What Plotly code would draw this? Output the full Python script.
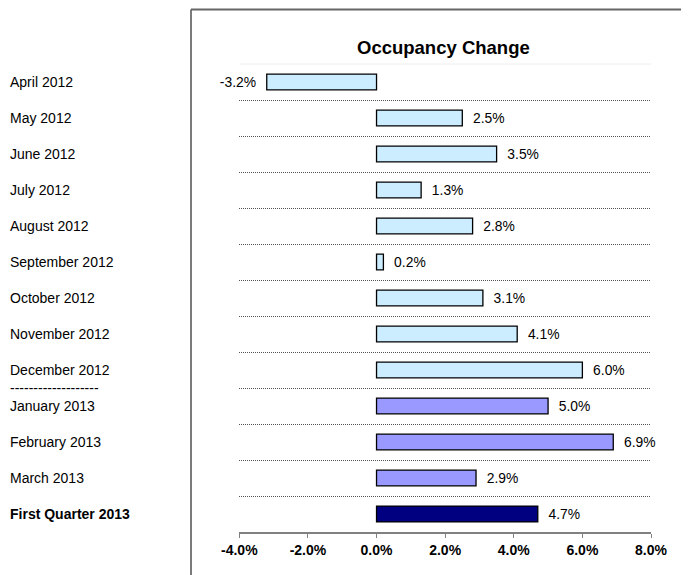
import plotly.graph_objects as go

W, H = 689, 575
OFF = 8  # default page body margin
FW, FH = W - OFF, H - OFF

categories = ["April 2012", "May 2012", "June 2012", "July 2012", "August 2012",
              "September 2012", "October 2012", "November 2012", "December 2012",
              "January 2013", "February 2013", "March 2013", "First Quarter 2013"]
values = [-3.2, 2.5, 3.5, 1.3, 2.8, 0.2, 3.1, 4.1, 6.0, 5.0, 6.9, 2.9, 4.7]
bar_colors = ["#CCECFF"] * 9 + ["#9999FF"] * 3 + ["#000080"]
tick_vals = [-4, -2, 0, 2, 4, 6, 8]
tick_text = ["-4.0%", "-2.0%", "0.0%", "2.0%", "4.0%", "6.0%", "8.0%"]
title = "Occupancy Change"

FONT = "Liberation Sans, Arial, sans-serif"
NB = "\u00a0\u00a0"

idx = list(range(len(categories)))
labels = [(NB + f"{v:.1f}%") if v >= 0 else (f"{v:.1f}%" + NB) for v in values]

fig = go.Figure(go.Bar(
    x=values, y=idx, orientation="h",
    marker=dict(color=bar_colors, line=dict(color="#000000", width=1.3)),
    width=0.44,
    text=labels, textposition="outside", cliponaxis=False,
    textfont=dict(family=FONT, size=14, color="#000000"),
    hoverinfo="skip",
))

px = lambda p: (p - OFF) / FW
py = lambda p: (H - p) / FH

fig.update_layout(
    template="none",
    width=FW, height=FH,
    margin=dict(l=0, r=0, t=0, b=0, pad=0),
    paper_bgcolor="white", plot_bgcolor="white",
    showlegend=False,
    xaxis=dict(
        domain=[px(239.3), px(651)],
        range=[-4, 8], automargin=False,
        tickvals=tick_vals, ticktext=tick_text,
        ticks="outside", ticklen=4, tickcolor="#808080", tickwidth=1.3,
        showline=True, linecolor="#808080", linewidth=1.5,
        showgrid=False, zeroline=False,
        tickfont=dict(family=FONT, size=14, color="#000000", weight="bold"),
        fixedrange=True,
    ),
    yaxis=dict(
        domain=[py(532), py(64)],
        range=[len(categories) - 0.5, -0.5], automargin=False,
        tickvals=[i + 0.5 for i in range(len(categories) - 1)],
        showticklabels=False, ticks="",
        showgrid=True, gridcolor="#555555", gridwidth=1, griddash="1px,1px",
        zeroline=False, showline=False,
        fixedrange=True,
    ),
)

annotations = [dict(
    text=f"<b>{title}</b>", xref="paper", yref="paper",
    x=px(443), y=py(47), xanchor="center", yanchor="middle",
    showarrow=False, font=dict(family=FONT, size=18.5, color="#000000"),
)]
for i, c in enumerate(categories):
    txt = f"<b>{c}</b>" if i == len(categories) - 1 else c
    annotations.append(dict(
        text=txt, xref="paper", yref="y", x=px(8), y=i,
        xanchor="left", yanchor="middle", showarrow=False,
        font=dict(family=FONT, size=14, color="#000000"),
    ))
annotations.append(dict(
    text="-------------------", xref="paper", yref="y", x=px(8), y=8.5,
    xanchor="left", yanchor="middle", showarrow=False,
    font=dict(family=FONT, size=14, color="#000000"),
))
fig.update_layout(annotations=annotations)

top_y = py(9.5)
fig.update_layout(shapes=[
    dict(type="line", xref="paper", yref="paper", x0=px(191), x1=px(191),
         y0=0, y1=top_y, line=dict(color="#333333", width=1.3)),
    dict(type="line", xref="paper", yref="paper", x0=px(191), x1=1,
         y0=top_y, y1=top_y, line=dict(color="#666666", width=2)),
    dict(type="line", xref="paper", yref="paper", x0=px(239.3), x1=px(651),
         y0=py(64), y1=py(64), line=dict(color="#EEEEEE", width=1)),
])

fig.write_html("out.html")
